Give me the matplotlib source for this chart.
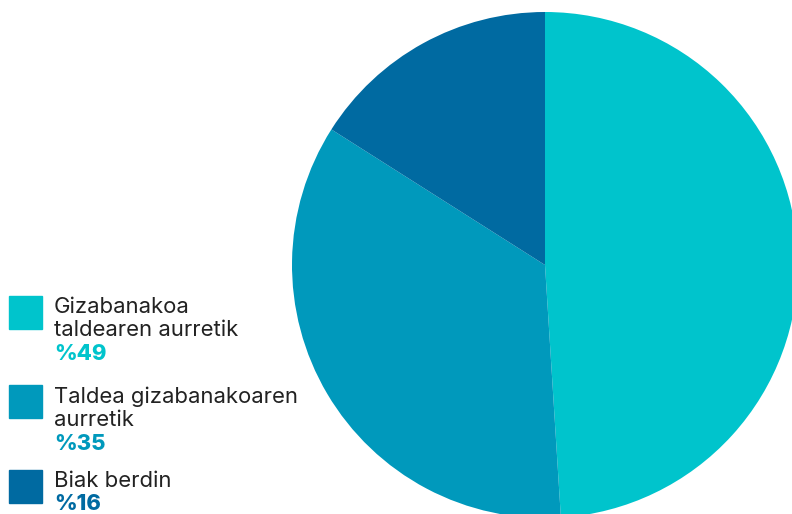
import matplotlib
matplotlib.use("Agg")
import matplotlib.pyplot as plt

# === Datuak ===
labels = ["Gizabanakoa\ntaldearen aurretik", "Taldea gizabanakoaren\naurretik", "Biak berdin"]
values = [49, 35, 16]
pct_labels = ["%49", "%35", "%16"]
colors = ["#00C4CC", "#0099BC", "#006AA1"]

W, H = 792, 514
fig = plt.figure(figsize=(W / 100, H / 100), dpi=100)
plt.rcParams['font.family'] = ['Inter', 'DejaVu Sans']

# Tarta (zentroa ~ (545, 265) px, erradioa ~253 px)
cx, cy, r = 545, 265, 253
ax = fig.add_axes([(cx - r) / W, (H - cy - r) / H, 2 * r / W, 2 * r / H])
ax.pie(values, colors=colors, startangle=90, counterclock=False,
       wedgeprops=dict(linewidth=0))
ax.set_xlim(-1, 1)
ax.set_ylim(-1, 1)
ax.set_aspect('equal')
ax.axis('off')

# Legenda (eskuz)
box_tops = [296, 385, 470]
first_baselines = [313, 403, 487]
line_h = 23.5
for i, lab in enumerate(labels):
    top = box_tops[i]
    fig.patches.append(plt.Rectangle((9 / W, 1 - (top + 33) / H), 33 / W, 33 / H,
                                     transform=fig.transFigure, color=colors[i]))
    lines = lab.split("\n")
    y = first_baselines[i]
    for ln in lines:
        fig.text(54 / W, 1 - y / H, ln, fontsize=15.9, color="#222222", va='baseline')
        y += line_h
    fig.text(54 / W, 1 - y / H, pct_labels[i], fontsize=15.9, color=colors[i],
             fontweight='heavy', va='baseline')

fig.savefig("out.png", dpi=100)
